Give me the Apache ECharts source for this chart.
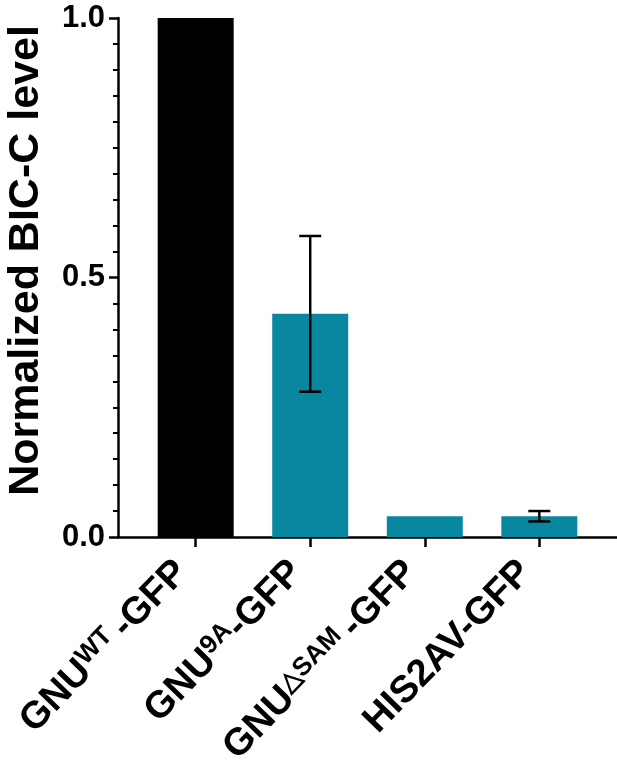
<!DOCTYPE html>
<html>
<head>
<meta charset="utf-8">
<script src="https://cdn.jsdelivr.net/npm/echarts@6/dist/echarts.min.js"></script>
<style>html,body{margin:0;padding:0;background:#fff}#c{width:617px;height:781px}</style>
</head>
<body>
<div id="c"></div>
<script>
const categories = ['GNU|WT |-GFP', 'GNU|9A|-GFP', 'GNU|△SAM |-GFP', 'HIS2AV-GFP'];
const values = [1.0, 0.43, 0.04, 0.04];
const errLow = [null, 0.28, null, 0.03];
const errHigh = [null, 0.58, null, 0.05];
const barColors = ['#000000', '#0a87a0', '#0a87a0', '#0a87a0'];
const yTicks = [0, 0.5, 1.0];

const chart = echarts.init(document.getElementById('c'), null, {renderer: 'canvas'});
const FONT = 'Liberation Sans, Arial, sans-serif';
const pos = categories.map((c, i) => i);

const barData = values.map((v, i) => ({value: [i, v], itemStyle: {color: barColors[i]}}));
const errData = [];
values.forEach((v, i) => { if (errLow[i] != null) errData.push([i, errLow[i], errHigh[i]]); });

function fmt(v) {
  const idx = Math.round(v);
  const parts = categories[idx].split('|');
  if (parts.length === 1) return '{b|' + parts[0] + '}';
  return '{b|' + parts[0] + '}{s|' + parts[1] + '}{b|' + parts[2] + '}';
}

chart.setOption({
  animation: false,
  grid: {left: 118, right: 0, top: 18, bottom: 244, containLabel: false, outerBoundsMode: 'none'},
  xAxis: {
    type: 'value', min: -0.678, max: 3.678,
    splitLine: {show: false},
    axisLine: {show: true, onZero: false, lineStyle: {color: '#000', width: 2.5}},
    axisTick: {show: true, customValues: pos, length: 10, lineStyle: {color: '#000', width: 2.5}},
    axisLabel: {
      show: true, customValues: pos, rotate: 46, margin: 15, padding: [0, 20, 0, 0],
      formatter: fmt,
      rich: {
        b: {fontFamily: FONT, fontWeight: 'bold', fontSize: 38, color: '#000'},
        s: {fontFamily: FONT, fontWeight: 'bold', fontSize: 26, color: '#000', padding: [0, 0, 15, 0]}
      }
    }
  },
  yAxis: {
    type: 'value', min: 0, max: 1, interval: 0.5,
    name: 'Normalized BIC-C level', nameLocation: 'middle', nameGap: 70,
    nameTextStyle: {fontFamily: FONT, fontWeight: 'bold', fontSize: 43, color: '#000', padding: [0, 0, 0, 34]},
    splitLine: {show: false},
    axisLine: {show: true, onZero: false, lineStyle: {color: '#000', width: 2.5}},
    axisTick: {show: true, length: 9, lineStyle: {color: '#000', width: 2.5}},
    minorTick: {show: true, splitNumber: 10, length: 5, lineStyle: {color: '#000', width: 2}},
    axisLabel: {
      fontFamily: FONT, fontWeight: 'bold', fontSize: 31, color: '#000', margin: 13,
      formatter: v => yTicks.includes(v) ? v.toFixed(1) : ''
    }
  },
  series: [
    {type: 'bar', data: barData, barWidth: 76},
    {
      type: 'custom', data: errData, z: 5,
      renderItem: function (params, api) {
        const x = api.value(0);
        const lo = api.coord([x, api.value(1)]);
        const hi = api.coord([x, api.value(2)]);
        const w = 11;
        const st = {stroke: '#000', lineWidth: 2.5};
        return {type: 'group', children: [
          {type: 'line', shape: {x1: lo[0], y1: lo[1], x2: hi[0], y2: hi[1]}, style: st},
          {type: 'line', shape: {x1: lo[0] - w, y1: lo[1], x2: lo[0] + w, y2: lo[1]}, style: st},
          {type: 'line', shape: {x1: hi[0] - w, y1: hi[1], x2: hi[0] + w, y2: hi[1]}, style: st}
        ]};
      }
    }
  ]
});
</script>
</body>
</html>
